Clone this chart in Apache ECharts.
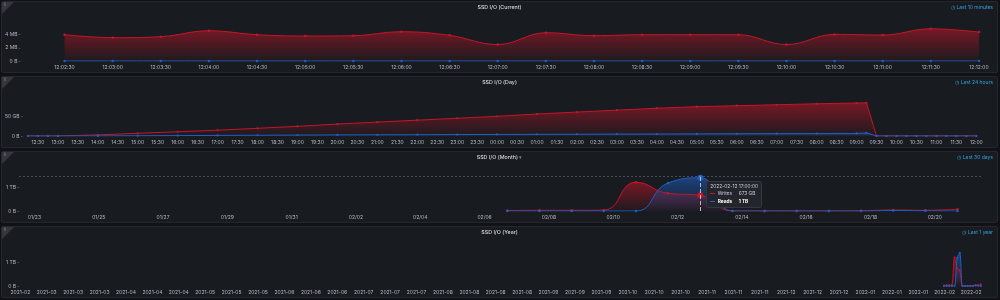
<!DOCTYPE html>
<html>
<head>
<meta charset="utf-8">
<script src="https://cdn.jsdelivr.net/npm/echarts@6/dist/echarts.min.js"></script>
<style>
  html, body { margin: 0; padding: 0; background: #111217; }
  body { width: 1000px; height: 300px; position: relative; overflow: hidden; }
  .panel { position: absolute; left: 1px; width: 997px; height: 72px; box-sizing: border-box;
           background: #181b1f; border: 1px solid #25272c; border-radius: 2px; }
</style>
</head>
<body>
<div class="panel" id="p1" style="top:1px"></div>
<div class="panel" id="p2" style="top:76px"></div>
<div class="panel" id="p3" style="top:151px"></div>
<div class="panel" id="p4" style="top:226px"></div>
<script>
// ---- data ----
// current: MB per 30s step on 2022-02-21
const curTimes = ['12:02:30', '12:03:00', '12:03:30', '12:04:00', '12:04:30', '12:05:00', '12:05:30',
  '12:06:00', '12:06:30', '12:07:00', '12:07:30', '12:08:00', '12:08:30', '12:09:00', '12:09:30',
  '12:10:00', '12:10:30', '12:11:00', '12:11:30', '12:12:00'];
const curWrites = [4.0, 3.55, 3.7, 4.6, 4.0, 3.8, 3.85, 4.45, 3.9, 2.5, 4.3, 3.85, 4.0, 4.0, 4.0, 2.5, 4.05, 3.95, 4.9, 4.4];
const curReads = [0, 0, 0, 0, 0, 0, 0, 0, 0, 0, 0, 0, 0, 0, 0, 0, 0, 0, 0, 0];

// day: GB, 2022-02-20 12:15 -> 2022-02-21 12:00
const dayTimes = ['12:15', '12:30', '12:45', '13:00', '14:00', '15:00', '16:00', '17:00', '18:00', '19:00',
  '20:00', '21:00', '22:00', '23:00', '00:00', '01:00', '02:00', '03:00', '04:00', '05:00', '06:00',
  '07:00', '08:00', '09:00', '09:15', '09:30', '09:45', '10:00', '10:15', '10:30', '10:45', '11:00',
  '11:15', '11:30', '11:45', '12:00'];
const dayWrites = [0, 0, 0, 0.2, 3, 7, 11, 15, 20, 25, 31, 36, 41, 46, 51, 57, 62, 67, 72, 76, 78.5,
  81, 83.5, 85.5, 86, 0, 0, 0, 0, 0, 0, 0, 0, 0, 0, 0];
const dayReads = [0, 0, 0, 0, 0.3, 0.6, 1, 1.5, 2, 2.4, 2.8, 3.1, 3.4, 3.7, 4, 4.3, 4.6, 4.9, 5.2, 5.5, 5.8,
  6.1, 6.4, 6.7, 8, 0, 0, 0, 0, 0, 0, 0, 0, 0, 0, 0];

// month / year: TB, daily at 17:00
const monthDays = ['2022-02-06', '2022-02-07', '2022-02-08', '2022-02-09', '2022-02-10', '2022-02-11',
  '2022-02-12', '2022-02-13', '2022-02-14', '2022-02-15', '2022-02-16', '2022-02-17', '2022-02-18',
  '2022-02-19', '2022-02-20'];
const monthWrites = [0.02, 0.03, 0.03, 0.04, 1.23, 0.76, 0.673, 0, 0, 0, 0, 0.01, 0.04, 0.03, 0.08];
const monthReads = [0, 0, 0, 0, 0, 1.2, 1.42, 0, 0, 0, 0, 0, 0.02, 0.01, 0];

const hoverDay = '2022-02-12'; // tooltip shown on the month panel

const RED = '#c4162a', BLUE = '#1f60c4';
const LABEL = 'rgba(204,204,220,0.85)';
const FONT = 'Inter, Roboto, sans-serif';
const DAY = 86400000, MIN = 60000, SEC = 1000;

// ---- helpers ----
const pad = n => String(n).padStart(2, '0');
function curT(s) { const p = s.split(':').map(Number); return Date.UTC(2022, 1, 21, p[0], p[1], p[2]); }
function dayT(s) {
  const p = s.split(':').map(Number);
  const next = p[0] * 60 + p[1] < 12 * 60 + 7;
  return Date.UTC(2022, 1, next ? 21 : 20, p[0], p[1]);
}
function dateT(s) { const p = s.split('-').map(Number); return Date.UTC(p[0], p[1] - 1, p[2], 17); }
function range(start, step, end) { const out = []; for (let t = start; t <= end; t += step) out.push(t); return out; }
function rgba(hex, a) {
  const n = parseInt(hex.slice(1), 16);
  return 'rgba(' + (n >> 16) + ',' + ((n >> 8) & 255) + ',' + (n & 255) + ',' + a + ')';
}
const fmtHMS = v => { const d = new Date(v); return pad(d.getUTCHours()) + ':' + pad(d.getUTCMinutes()) + ':' + pad(d.getUTCSeconds()); };
const fmtHM = v => { const d = new Date(v); return pad(d.getUTCHours()) + ':' + pad(d.getUTCMinutes()); };
const fmtMD = v => { const d = new Date(v); return pad(d.getUTCMonth() + 1) + '/' + pad(d.getUTCDate()); };
const fmtYM = v => { const d = new Date(v); return d.getUTCFullYear() + '-' + pad(d.getUTCMonth() + 1); };
const unit = u => v => v === 0 ? '0 B' : v + ' ' + u;
function fmtTB(v) { return v >= 1 ? Math.round(v) + ' TB' : Math.round(v * 1000) + ' GB'; }

function line(name, color, times, values, smooth, size) {
  return {
    name: name, type: 'line', smooth: smooth, symbol: 'circle', symbolSize: size, showSymbol: true,
    data: times.map((t, i) => [t, values[i]]),
    lineStyle: { color: color, width: 1 },
    itemStyle: { color: color },
    areaStyle: {
      color: new echarts.graphic.LinearGradient(0, 0, 0, 1, [
        { offset: 0, color: rgba(color, 0.8) }, { offset: 1, color: rgba(color, 0.05) }])
    },
    emphasis: { disabled: true }
  };
}

function panel(id, cfg) {
  const chart = echarts.init(document.getElementById(id));
  chart.setOption({
    animation: false,
    textStyle: { fontFamily: FONT },
    title: [
      { text: cfg.title, left: 'center', top: 3, padding: 0,
        textStyle: { color: '#d8d9e0', fontSize: 5.3, fontWeight: 500, fontFamily: FONT,
          rich: { c: { color: '#8e8e96', fontSize: 5 } } } },
      { text: '\u25F7 ' + cfg.range, right: 4, top: 3, padding: 0,
        textStyle: { color: '#33a2e5', fontSize: 5, fontWeight: 400, fontFamily: FONT } }
    ],
    graphic: [
      { type: 'polygon', left: 0, top: 0, shape: { points: [[0, 0], [12, 0], [0, 12]] }, style: { fill: '#34373e' } },
      { type: 'text', left: 2.5, top: 1, style: { text: 'i', fill: '#c8c9d0', fontSize: 4, fontFamily: FONT } }
    ],
    grid: { left: 17, right: 14, top: 23.5, height: 35.5, containLabel: false },
    xAxis: {
      type: 'value', min: cfg.xMin, max: cfg.xMax,
      axisLine: { show: false }, axisTick: { show: false }, splitLine: { show: false },
      axisLabel: { customValues: cfg.ticks, formatter: cfg.xFmt, fontSize: 5, color: LABEL, margin: 3.5 }
    },
    yAxis: {
      type: 'value', min: 0, max: cfg.yMax, interval: cfg.yStep,
      axisLine: { show: false }, splitLine: { show: false },
      axisTick: { show: true, length: 1.5, lineStyle: { color: 'rgba(204,204,220,0.3)' } },
      axisLabel: { formatter: cfg.yFmt, fontSize: 5, color: LABEL, margin: 3, showMaxLabel: false }
    },
    tooltip: cfg.tooltip || { show: false },
    series: cfg.series
  });
  return chart;
}

// ---- panels ----
const cT = curTimes.map(curT);
const c1Min = Date.UTC(2022, 1, 21, 12, 2, 2, 500), c1Max = c1Min + 10 * MIN;
panel('p1', {
  title: 'SSD I/O (Current)', range: 'Last 10 minutes',
  xMin: c1Min, xMax: c1Max, ticks: range(Date.UTC(2022, 1, 21, 12, 2, 30), 30 * SEC, c1Max), xFmt: fmtHMS,
  yMax: 5.4, yStep: 2, yFmt: unit('MB'),
  series: [line('Writes', RED, cT, curWrites, 0.4, 2.5), line('Reads', BLUE, cT, curReads, 0.4, 2.5)]
});

const dT = dayTimes.map(dayT);
const d2Min = Date.UTC(2022, 1, 20, 12, 7), d2Max = Date.UTC(2022, 1, 21, 12, 10);
panel('p2', {
  title: 'SSD I/O (Day)', range: 'Last 24 hours',
  xMin: d2Min, xMax: d2Max, ticks: range(Date.UTC(2022, 1, 20, 12, 30), 30 * MIN, d2Max), xFmt: fmtHM,
  yMax: 92, yStep: 50, yFmt: unit('GB'),
  series: [line('Writes', RED, dT, dayWrites, false, 2.2), line('Reads', BLUE, dT, dayReads, false, 2.2)]
});

const mT = monthDays.map(dateT);
const m3Min = Date.UTC(2022, 0, 22, 12, 30), m3Max = Date.UTC(2022, 1, 21, 12);
const chart3 = panel('p3', {
  title: 'SSD I/O (Month) {c|\u25BE}', range: 'Last 30 days',
  xMin: m3Min, xMax: m3Max, ticks: range(Date.UTC(2022, 0, 23), 2 * DAY, m3Max), xFmt: fmtMD,
  yMax: 1.52, yStep: 1, yFmt: unit('TB'),
  series: [line('Writes', RED, mT, monthWrites, 0.5, 2.5), line('Reads', BLUE, mT, monthReads, 0.5, 2.5)],
  tooltip: {
    trigger: 'axis', triggerOn: 'none', alwaysShowContent: true, position: [704, 29],
    axisPointer: { type: 'cross', snap: false, label: { show: false },
      crossStyle: { color: 'rgba(204,204,220,0.4)', width: 0.7, type: [2, 2] } },
    backgroundColor: '#22252b', borderColor: '#34373d', borderWidth: 0.5, padding: [1, 3, 2, 3.3],
    textStyle: { color: '#ccccdc', fontSize: 4.8, fontFamily: FONT },
    extraCssText: 'box-shadow:none;border-radius:2px;',
    formatter: params => {
      const d = new Date(params[0].value[0]);
      let s = '<div style="line-height:7px">' + d.getUTCFullYear() + '-' + pad(d.getUTCMonth() + 1) + '-' +
        pad(d.getUTCDate()) + ' ' + fmtHMS(d.getTime()) + '</div>';
      params.forEach(p => {
        const hot = p.seriesName === 'Reads';
        s += '<div style="line-height:7.5px;display:flex;align-items:center;' +
          (hot ? 'font-weight:700;color:#fff;' : '') + '">' +
          '<span style="display:inline-block;width:5px;height:1px;background:' + p.color + ';margin-right:2.4px"></span>' +
          '<span style="display:inline-block;width:21px">' + p.seriesName + '</span>' +
          '<span>' + fmtTB(p.value[1]) + '</span></div>';
      });
      return s;
    }
  }
});

const y4Min = Date.UTC(2021, 1, 21, 12), y4Max = Date.UTC(2022, 1, 21, 12);
panel('p4', {
  title: 'SSD I/O (Year)', range: 'Last 1 year',
  xMin: y4Min, xMax: y4Max, ticks: range(Math.ceil(y4Min / (10 * DAY)) * 10 * DAY, 10 * DAY, y4Max), xFmt: fmtYM,
  yMax: 1.52, yStep: 1, yFmt: unit('TB'),
  series: [line('Writes', RED, mT, monthWrites, 0.3, 2), line('Reads', BLUE, mT, monthReads, 0.3, 2)]
});

// hover on the month panel
const hx = chart3.convertToPixel({ xAxisIndex: 0 }, dateT(hoverDay));
chart3.dispatchAction({ type: 'showTip', x: hx, y: 24 });
</script>
</body>
</html>
